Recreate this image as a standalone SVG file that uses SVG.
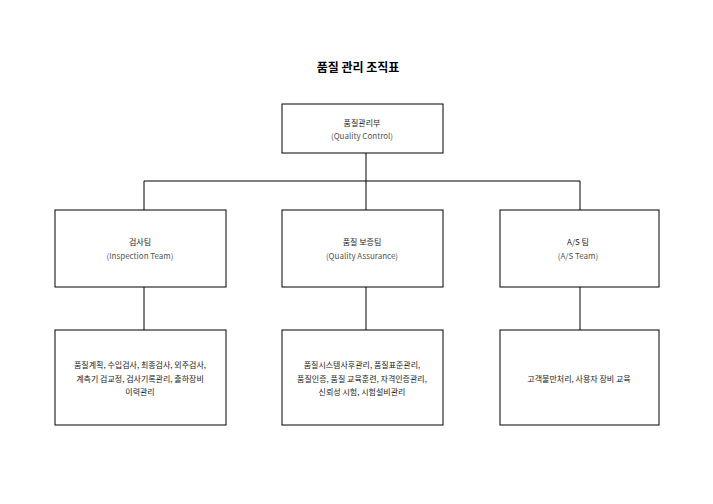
<svg xmlns="http://www.w3.org/2000/svg" width="713" height="504" viewBox="0 0 713 504">
<style>
rect{fill:#fff;stroke:#000;stroke-width:1}
text{font-family:"Noto Sans CJK KR","Liberation Sans",sans-serif;font-size:8px;fill:#222;text-anchor:middle}
.en{fill:#555}
.t{font-size:12px;font-weight:bold;fill:#000}
line{stroke:#000;stroke-width:1}
</style>
<rect x="0" y="0" width="713" height="504" style="stroke:none"/>
<text class="t" x="358" y="72">품질 관리 조직표</text>
<g id="connectors">
<line x1="366" y1="153" x2="366" y2="210"/>
<line x1="144" y1="181" x2="580" y2="181"/>
<line x1="144" y1="181" x2="144" y2="210"/>
<line x1="580" y1="181" x2="580" y2="210"/>
<line x1="144" y1="287" x2="144" y2="330"/>
<line x1="366" y1="287" x2="366" y2="330"/>
<line x1="580" y1="287" x2="580" y2="330"/>
</g>
<g id="qc"><rect x="282" y="104" width="161" height="49"/><text x="362" y="126">품질관리부</text><text class="en" x="362" y="139">(Quality Control)</text></g>
<g id="inspection"><rect x="55" y="210" width="171" height="77"/><text x="140" y="245">검사팀</text><text class="en" x="140" y="259">(Inspection Team)</text></g>
<g id="qa"><rect x="282" y="210" width="161" height="77"/><text x="362" y="245">품질 보증팀</text><text class="en" x="362" y="259">(Quality Assurance)</text></g>
<g id="as"><rect x="500" y="210" width="159" height="77"/><text x="578" y="245">A/S 팀</text><text class="en" x="578" y="259">(A/S Team)</text></g>
<g id="inspection-tasks"><rect x="55" y="330" width="171" height="95"/><text x="140" y="368">품질계획, 수입검사, 최종검사, 외주검사,</text><text x="140" y="382">계측기 검교정, 검사기록관리, 출하장비</text><text x="140" y="395">이력관리</text></g>
<g id="qa-tasks"><rect x="282" y="330" width="161" height="95"/><text x="362" y="368">품질시스템사후관리, 품질표준관리,</text><text x="362" y="382">품질인증, 품질 교육훈련, 자격인증관리,</text><text x="362" y="395">신뢰성 시험, 시험설비관리</text></g>
<g id="as-tasks"><rect x="500" y="330" width="159" height="95"/><text x="579" y="382">고객불만처리, 사용자 장비 교육</text></g>
</svg>
